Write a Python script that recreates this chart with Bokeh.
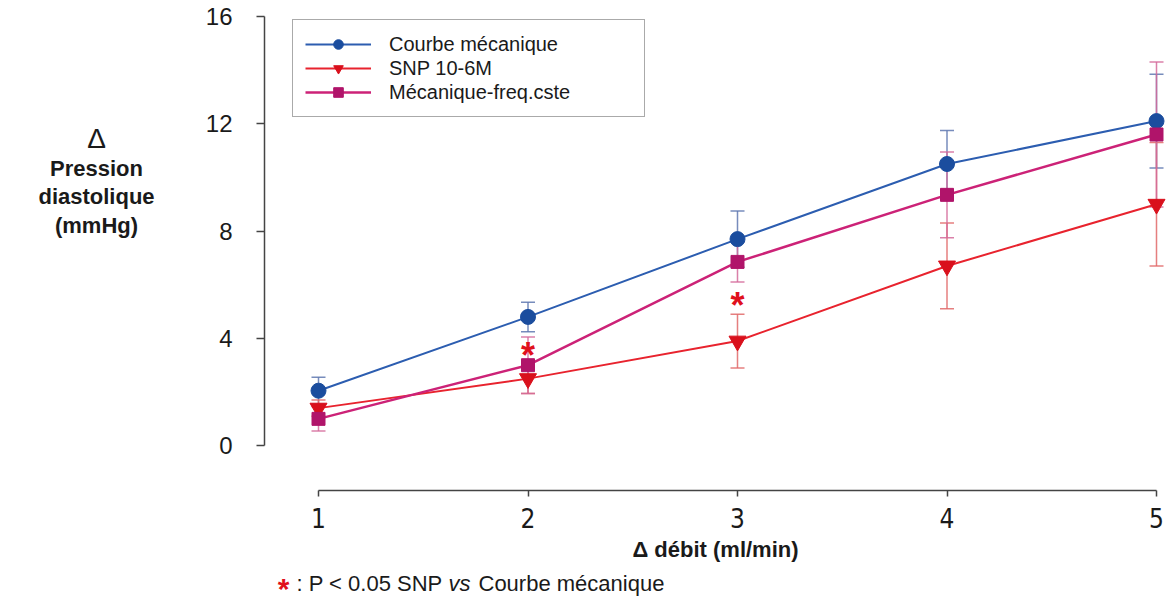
from bokeh.plotting import figure
from bokeh.layouts import row, column
from bokeh.models import (ColumnDataSource, Whisker, TeeHead, Legend, LegendItem,
                          Range1d, FixedTicker)
from bokeh.embed import file_html
from bokeh.resources import INLINE
from bokeh.core.properties import value

# ---------------- data ----------------
debit = [1, 2, 3, 4, 5]
courbe_meca = [2.05, 4.8, 7.7, 10.5, 12.1]
courbe_meca_err = [0.5, 0.55, 1.05, 1.25, 1.75]
snp = [1.4, 2.5, 3.9, 6.7, 9.0]
snp_err = [0.3, 0.55, 1.0, 1.6, 2.3]
meca_freq = [1.0, 3.0, 6.85, 9.35, 11.6]
meca_freq_err = [0.45, 1.05, 0.75, 1.6, 2.7]
sig_x = [2, 3]
sig_y = [3.55, 5.4]
x_ticks = [1, 2, 3, 4, 5]
y_ticks = [0, 4, 8, 12, 16]
series_names = ["Courbe mécanique", "SNP 10-6M", "Mécanique-freq.cste"]
y_title = ["Δ", "Pression", "diastolique", "(mmHg)"]
x_title = "Δ débit (ml/min)"
footnote = [": P < 0.05 SNP", "vs", "Courbe mécanique"]

# ---------------- page geometry ----------------
W, H = 1174, 604
LEFT_W = 200          # width of the panel holding the y title
FOOT_H = 40           # height of the footnote strip
MAIN_W, MAIN_H = W - LEFT_W, H - FOOT_H

X1_PX, X_PER = 318.0, 209.5
Y0_PX, Y_PER = 447.0, 26.94
FRAME_L, FRAME_R, FRAME_T, FRAME_B = 264, 1166, 14, 492


def dx(px):
    return 1 + (px - X1_PX) / X_PER


def dy(py):
    return (Y0_PX - py) / Y_PER


AX_COL = "#444444"
TXT_COL = "#1a1a1a"
STAR_COL = "#e0101c"


def blank_fig(w, h, top=0, bottom=0):
    f = figure(width=w, height=h, output_backend="svg", toolbar_location=None,
               x_range=Range1d(0, w), y_range=Range1d(h - bottom, top),
               x_axis_type=None, y_axis_type=None,
               min_border_left=0, min_border_right=0,
               min_border_top=top, min_border_bottom=bottom)
    f.outline_line_color = None
    f.xgrid.visible = False
    f.ygrid.visible = False
    f.background_fill_color = "white"
    f.border_fill_color = "white"
    return f


# ---------------- main plot ----------------
p = figure(width=MAIN_W, height=MAIN_H, output_backend="svg", toolbar_location=None,
           x_range=Range1d(dx(FRAME_L), dx(FRAME_R)),
           y_range=Range1d(dy(FRAME_B), dy(FRAME_T)),
           min_border_left=FRAME_L - LEFT_W, min_border_right=W - FRAME_R,
           min_border_top=FRAME_T, min_border_bottom=MAIN_H - FRAME_B)
p.outline_line_color = None
p.xgrid.visible = False
p.ygrid.visible = False
p.background_fill_color = "white"
p.border_fill_color = "white"

yax = p.yaxis[0]
yax.ticker = FixedTicker(ticks=y_ticks)
yax.bounds = (0, 16)
yax.axis_line_color = AX_COL
yax.axis_line_width = 1.5
yax.major_tick_line_color = AX_COL
yax.major_tick_line_width = 1.5
yax.major_tick_out = 8
yax.major_tick_in = 0
yax.minor_tick_line_color = None
yax.major_label_text_font = "Liberation Sans"
yax.major_label_text_font_size = "24px"
yax.major_label_text_color = TXT_COL
yax.major_label_standoff = 24

xax = p.xaxis[0]
xax.ticker = FixedTicker(ticks=x_ticks)
xax.bounds = (1, 5)
xax.axis_line_color = AX_COL
xax.axis_line_width = 1.5
xax.major_tick_line_color = AX_COL
xax.major_tick_line_width = 1.5
xax.major_tick_out = 6
xax.major_tick_in = 0
xax.minor_tick_line_color = None
xax.major_label_text_font = "Liberation Sans Narrow, DejaVu Sans Condensed, Liberation Sans"
xax.major_label_text_font_size = "26px"
xax.major_label_text_color = TXT_COL
xax.major_label_standoff = 11
xax.axis_label = x_title
xax.axis_label_text_font = "Liberation Sans"
xax.axis_label_text_font_style = "bold"
xax.axis_label_text_font_size = "22px"
xax.axis_label_text_color = TXT_COL
xax.axis_label_standoff = 6

styles = [
    (courbe_meca, courbe_meca_err, "#2c5db0", "#1b4d9e", "#5f78b0", "circle", 15, 2.0),
    (snp, snp_err, "#e8232e", "#d9101c", "#e06868", "inverted_triangle", 17, 2.0),
    (meca_freq, meca_freq_err, "#cc2277", "#b0146a", "#d36a9a", "square", 13, 2.5),
]

for ys, es, lc, mc, ec, mk, sz, lw in styles:
    src = ColumnDataSource(dict(x=debit,
                                lower=[y - e for y, e in zip(ys, es)],
                                upper=[y + e for y, e in zip(ys, es)]))
    w = Whisker(source=src, base="x", upper="upper", lower="lower",
                line_color=ec, line_width=1.5, line_alpha=0.85,
                upper_head=TeeHead(size=14, line_color=ec, line_width=1.5, line_alpha=0.85),
                lower_head=TeeHead(size=14, line_color=ec, line_width=1.5, line_alpha=0.85))
    p.add_layout(w)

line_rs = []
for ys, es, lc, mc, ec, mk, sz, lw in styles:
    line_rs.append(p.line(debit, ys, line_color=lc, line_width=lw))

items = []
for (ys, es, lc, mc, ec, mk, sz, lw), rl, name in zip(styles, line_rs, series_names):
    rm = p.scatter(debit, ys, marker=mk, size=sz, fill_color=mc, line_color=mc)
    items.append(LegendItem(label=name, renderers=[rl, rm]))

p.text(x=sig_x, y=sig_y, text=["*"] * len(sig_x), text_color=STAR_COL,
       text_font=value("Liberation Sans"), text_font_size="36px",
       text_font_style="bold", text_align="center", text_baseline="middle",
       y_offset=5)

legend = Legend(items=items, location=(28, 373))
legend.border_line_color = "#555555"
legend.border_line_width = 1.5
legend.background_fill_color = "white"
legend.background_fill_alpha = 1.0
legend.label_text_font = "Liberation Sans"
legend.label_text_font_size = "20px"
legend.label_text_color = TXT_COL
legend.glyph_width = 66
legend.glyph_height = 24
legend.label_height = 24
legend.label_standoff = 18
legend.label_width = 243
legend.padding = 12
legend.spacing = 0
legend.margin = 0
p.add_layout(legend)

# ---------------- y title panel (frame spans page rows FRAME_T..FRAME_B) ----------------
lt = blank_fig(LEFT_W, MAIN_H, top=FRAME_T, bottom=MAIN_H - FRAME_B)
lt.y_range = Range1d(FRAME_B, FRAME_T)
yt_pos = [139, 169, 197, 226]
yt_style = ["normal", "bold", "bold", "bold"]
yt_size = ["28px", "22px", "22px", "22px"]
for txt, py, st, fs in zip(y_title, yt_pos, yt_style, yt_size):
    lt.text(x=[96], y=[py], text=[txt], text_align="center", text_baseline="middle",
            text_font=value("Liberation Sans"), text_font_style=st,
            text_font_size=fs, text_color=TXT_COL)

# ---------------- footnote strip ----------------
ft = blank_fig(W, FOOT_H)
fy = 583 - MAIN_H
ft.text(x=[283], y=[fy], text=["*"], text_align="center", text_baseline="middle",
        text_font=value("Liberation Sans"), text_font_style="bold",
        text_font_size="30px", text_color=STAR_COL, y_offset=5)
fn_x = [296, 448, 478]
fn_style = ["normal", "italic", "normal"]
for txt, px, st in zip(footnote, fn_x, fn_style):
    ft.text(x=[px], y=[fy], text=[txt], text_align="left", text_baseline="middle",
            text_font=value("Liberation Sans"), text_font_style=st,
            text_font_size="22px", text_color=TXT_COL)

layout = column(row(lt, p, spacing=0), ft, spacing=0)
open("out.html", "w").write(file_html(layout, INLINE))
